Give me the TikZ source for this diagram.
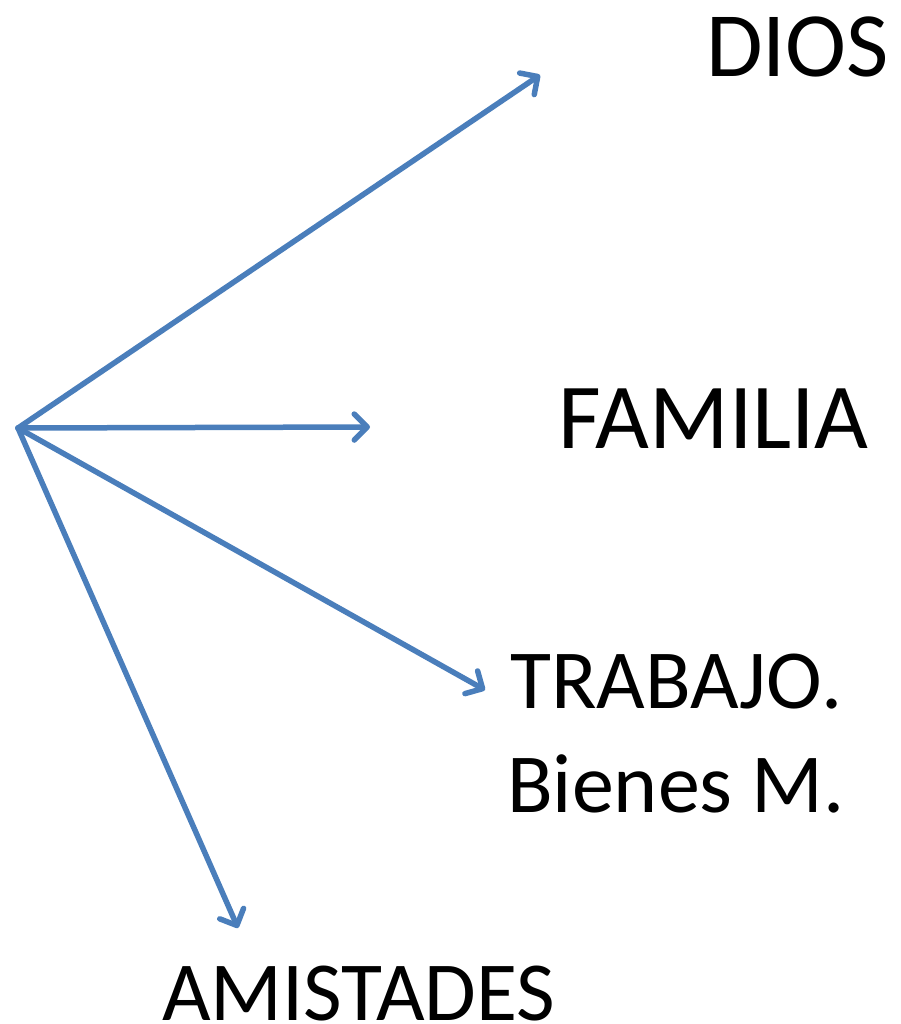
\documentclass[tikz,border=0pt]{standalone}
\usepackage{fontspec}
\setmainfont{Carlito}
\usetikzlibrary{arrows.meta}
\definecolor{officeblue}{RGB}{74,126,187}
\begin{document}
\begin{tikzpicture}[x=1pt,y=-1pt,
  conn/.style={officeblue,line width=5.5pt,line cap=round,-{Straight Barb[round,length=13pt,width=26pt]}},
  lbl/.style={anchor=base west,inner sep=0pt,font=\fontsize{84}{102}\selectfont}]
\useasboundingbox (0,0) rectangle (900,1024);
\coordinate (o) at (18,428);
\coordinate (e1) at (540,75);
\coordinate (e2) at (370,427);
\coordinate (e3) at (485,690);
\coordinate (e4) at (238,928);
\draw[conn] (o) -- (e1);
\draw[conn] (o) -- (e2);
\draw[conn] (o) -- (e3);
\draw[conn] (o) -- (e4);
\node[lbl,font=\fontsize{92}{110}\selectfont] (dios) at (706,77) {DIOS};
\node[lbl,font=\fontsize{93}{110}\selectfont] (fam) at (558,448) {FAMILIA};
\node[lbl] (trab) at (510,708) {TRABAJO.};
\node[lbl] (bien) at (507,812) {Bienes M.};
\node[lbl] (amis) at (162,1020) {AMISTADES};
\end{tikzpicture}
\end{document}
